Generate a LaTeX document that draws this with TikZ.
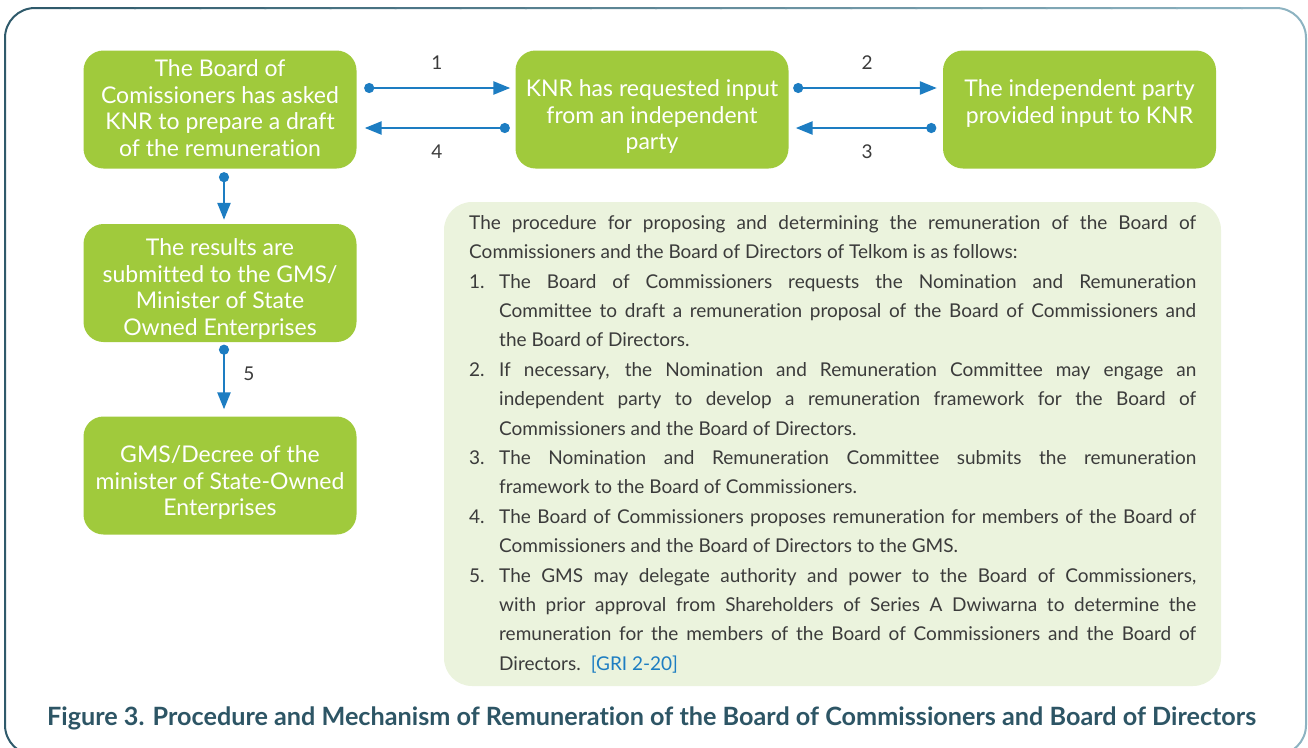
\documentclass[tikz,border=0pt]{standalone}
\usepackage{fontspec}
\setmainfont{Lato}[Ligatures=NoCommon]
\usetikzlibrary{arrows.meta}
\definecolor{gfill}{HTML}{A0CA3C}
\definecolor{pale}{HTML}{EBF3DD}
\definecolor{ablue}{HTML}{1D7DC2}
\definecolor{captc}{HTML}{2D5565}
\definecolor{bodyc}{HTML}{3B3B3B}
\definecolor{frameA}{HTML}{2F5A6B}
\definecolor{frameB}{HTML}{8DB3C1}
\newcommand\jline[1]{\hbox to 727pt{#1}}
\newcommand\nline[1]{\hbox{#1}}
\newcommand\inum[1]{\hbox to 30pt{#1\hfil}}
\begin{document}
\begin{tikzpicture}[x=1pt,y=-1pt,
  gbox/.style={draw=none, fill=gfill, rounded corners=20pt, minimum width=273pt, minimum height=118pt, inner sep=0pt},
  gtext/.style={text=white, align=center, font=\fontsize{23}{26.7}\selectfont, inner sep=0pt},
  conn/.style={draw=ablue, line width=2.5pt, {Circle[length=10pt,width=10pt]}-{Triangle[length=17pt,width=13pt]}},
  numlab/.style={text=bodyc, font=\fontsize{19}{22}\selectfont, inner sep=0pt}]
\useasboundingbox (0,0) rectangle (1308,747);
% outer frame with gradient
\foreach \i in {0,...,19} {
  \pgfmathtruncatemacro\p{100-\i*100/19}
  \begin{scope}
    \clip (5+\i*65.1-1,-5) rectangle (5+\i*65.1+66.1,770);
    \draw[line width=2pt, color={frameA!\p!frameB}, rounded corners=30pt] (5,8) rectangle (1306,755);
  \end{scope}
}
% text panel
\fill[pale, rounded corners=28pt] (444,202) rectangle (1221,686);
% boxes
\node[gbox] (A) at (220,109.5) {};
\node[gbox] (B) at (652,109.5) {};
\node[gbox] (C) at (1079.5,109.5) {};
\node[gbox] (D) at (220,283) {};
\node[gbox] (E) at (220,475.5) {};
\node[gtext] (At) at ([yshift=1.5pt]A.center) {The Board of\\Comissioners has asked\\KNR to prepare a draft\\of the remuneration};
\node[gtext] (Bt) at ([yshift=-7pt]B.center) {KNR has requested input\\from an independent\\party};
\node[gtext] (Ct) at ([yshift=6pt]C.center) {The independent party\\provided input to KNR};
\node[gtext] (Dt) at ([yshift=-6pt]D.center) {The results are\\submitted to the GMS/\\Minister of State\\Owned Enterprises};
\node[gtext] (Et) at ([yshift=-7pt]E.center) {GMS/Decree of the\\minister of State-Owned\\Enterprises};
% connectors
\draw[conn, shorten <=7.5pt, shorten >=5pt] ([yshift=21.5pt]A.east) -- ([yshift=21.5pt]B.west);
\draw[conn, shorten <=5.5pt, shorten >=8pt] ([yshift=-18.5pt]B.west) -- ([yshift=-18.5pt]A.east);
\draw[conn, shorten <=4.5pt, shorten >=6pt] ([yshift=21.5pt]B.east) -- ([yshift=21.5pt]C.west);
\draw[conn, shorten <=6.5pt, shorten >=7pt] ([yshift=-18.5pt]C.west) -- ([yshift=-18.5pt]B.east);
\draw[conn, shorten <=3.5pt, shorten >=4pt] ([xshift=4pt]A.south) -- ([xshift=4pt]D.north);
\draw[conn, shorten <=2.5pt, shorten >=7pt] ([xshift=4pt]D.south) -- ([xshift=4pt]E.north);
% labels
\node[numlab] (l1) at (437,63) {1};
\node[numlab] (l4) at (437,152) {4};
\node[numlab] (l2) at (867,63) {2};
\node[numlab] (l3) at (867,152) {3};
\node[numlab] (l5) at (249,374) {5};
% body text
\node[anchor=base west, inner sep=0pt, text=bodyc, font=\fontsize{19}{29.4}\selectfont] (T) at (469,229.3) {\vtop{\baselineskip=29.4pt
\jline{The procedure for proposing and determining the remuneration of the Board of}
\nline{Commissioners and the Board of Directors of Telkom is as follows:}
\jline{\inum{1.}The Board of Commissioners requests the Nomination and Remuneration}
\jline{\hskip30pt Committee to draft a remuneration proposal of the Board of Commissioners and}
\nline{\hskip30pt the Board of Directors.}
\jline{\inum{2.}If necessary, the Nomination and Remuneration Committee may engage an}
\jline{\hskip30pt independent party to develop a remuneration framework for the Board of}
\nline{\hskip30pt Commissioners and the Board of Directors.}
\jline{\inum{3.}The Nomination and Remuneration Committee submits the remuneration}
\nline{\hskip30pt framework to the Board of Commissioners.}
\jline{\inum{4.}The Board of Commissioners proposes remuneration for members of the Board of}
\nline{\hskip30pt Commissioners and the Board of Directors to the GMS.}
\jline{\inum{5.}The GMS may delegate authority and power to the Board of Commissioners,}
\jline{\hskip30pt with prior approval from Shareholders of Series A Dwiwarna to determine the}
\jline{\hskip30pt remuneration for the members of the Board of Commissioners and the Board of}
\nline{\hskip30pt Directors.\hskip10pt\textcolor{ablue}{[GRI 2-20]}}
}};
% caption
\node[anchor=base, inner sep=0pt, text=captc, font=\fontsize{25.2}{28}\selectfont\bfseries] (cap) at (651.5,725) {Figure 3. Procedure and Mechanism of Remuneration of the Board of Commissioners and Board of Directors};
\end{tikzpicture}
\end{document}
